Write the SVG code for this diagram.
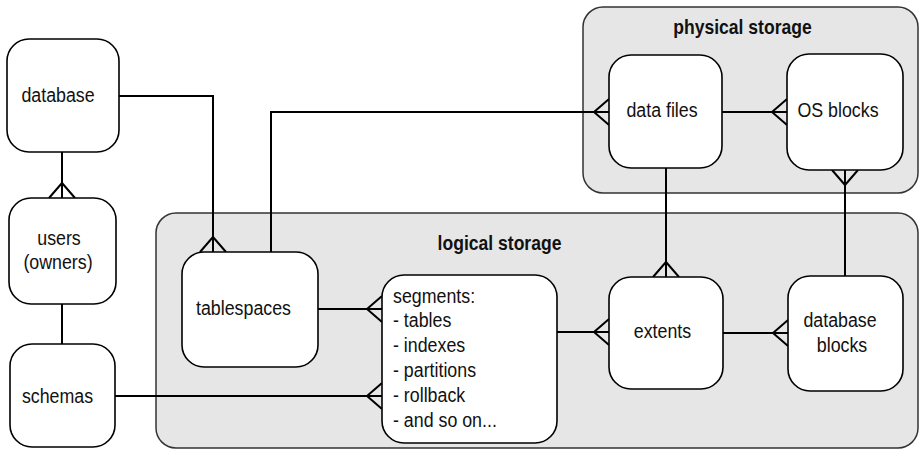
<svg xmlns="http://www.w3.org/2000/svg" width="920" height="450" viewBox="0 0 920 450">
<style>
.cont{fill:#e6e6e6;stroke:#333;stroke-width:1.5}
.node{fill:#fff;stroke:#000;stroke-width:1.6}
.conn{fill:none;stroke:#000;stroke-width:2}
.t{font-family:"Liberation Sans",Arial,sans-serif;font-size:20px;fill:#111}
.m{text-anchor:middle}
.h{font-family:"Liberation Sans",Arial,sans-serif;font-size:19.5px;font-weight:bold;fill:#111;text-anchor:middle}
</style>
<defs>
<marker id="crow" markerUnits="userSpaceOnUse" markerWidth="20" markerHeight="32" viewBox="0 -16 20 32" refX="16" refY="0" orient="auto" overflow="visible">
<path d="M1,0 L16,-13 M1,0 L16,13" fill="none" stroke="#000" stroke-width="2"/>
</marker>
</defs>
<g id="physical-storage">
<rect class="cont" x="583" y="7" width="335" height="186" rx="20"/>
<text class="h" transform="translate(742.5,34) scale(0.9,1)">physical storage</text>
</g>
<g id="logical-storage">
<rect class="cont" x="156" y="213" width="762" height="235" rx="20"/>
<text class="h" transform="translate(499.5,250) scale(0.9,1)">logical storage</text>
</g>
<g id="connectors">
<path class="conn" d="M62,152 V198" marker-end="url(#crow)"/>
<path class="conn" d="M119,96 H213 V252" marker-end="url(#crow)"/>
<path class="conn" d="M271,252 V112 H609" marker-end="url(#crow)"/>
<path class="conn" d="M722,112 H787" marker-end="url(#crow)"/>
<path class="conn" d="M666,168 V277" marker-end="url(#crow)"/>
<path class="conn" d="M845,276 V170" marker-end="url(#crow)"/>
<path class="conn" d="M557,332 H609" marker-end="url(#crow)"/>
<path class="conn" d="M723,333 H788" marker-end="url(#crow)"/>
<path class="conn" d="M318,309 H382" marker-end="url(#crow)"/>
<path class="conn" d="M115,396 H382" marker-end="url(#crow)"/>
<path class="conn" d="M62,304 V344"/>
</g>
<g id="database">
<rect class="node" x="7" y="39" width="112" height="113" rx="22"/>
<text class="t m" transform="translate(58,102) scale(0.89,1)">database</text>
</g>
<g id="users">
<rect class="node" x="9" y="198" width="107" height="106" rx="22"/>
<text class="t m" transform="translate(59,245) scale(0.89,1)">users</text>
<text class="t m" transform="translate(58,269) scale(0.89,1)">(owners)</text>
</g>
<g id="schemas">
<rect class="node" x="10" y="344" width="105" height="103" rx="22"/>
<text class="t m" transform="translate(57.5,403) scale(0.89,1)">schemas</text>
</g>
<g id="tablespaces">
<rect class="node" x="182" y="252" width="136" height="115" rx="22"/>
<text class="t m" transform="translate(243.5,315) scale(0.89,1)">tablespaces</text>
</g>
<g id="segments">
<rect class="node" x="382" y="275" width="175" height="168" rx="22"/>
<g transform="translate(393,0) scale(0.89,1)">
<text class="t" x="0" y="303">segments:</text>
<text class="t" x="0" y="327.5">- tables</text>
<text class="t" x="0" y="352">- indexes</text>
<text class="t" x="0" y="377">- partitions</text>
<text class="t" x="0" y="402">- rollback</text>
<text class="t" x="0" y="427">- and so on...</text>
</g>
</g>
<g id="data-files">
<rect class="node" x="609" y="55" width="113" height="113" rx="22"/>
<text class="t m" transform="translate(662,117) scale(0.89,1)">data files</text>
</g>
<g id="os-blocks">
<rect class="node" x="787" y="54" width="116" height="116" rx="22"/>
<text class="t m" transform="translate(838,117) scale(0.89,1)">OS blocks</text>
</g>
<g id="extents">
<rect class="node" x="609" y="277" width="114" height="112" rx="22"/>
<text class="t m" transform="translate(662.5,338) scale(0.89,1)">extents</text>
</g>
<g id="database-blocks">
<rect class="node" x="788" y="276" width="115" height="115" rx="22"/>
<text class="t m" transform="translate(840,327) scale(0.89,1)">database</text>
<text class="t m" transform="translate(842,352) scale(0.89,1)">blocks</text>
</g>
</svg>
